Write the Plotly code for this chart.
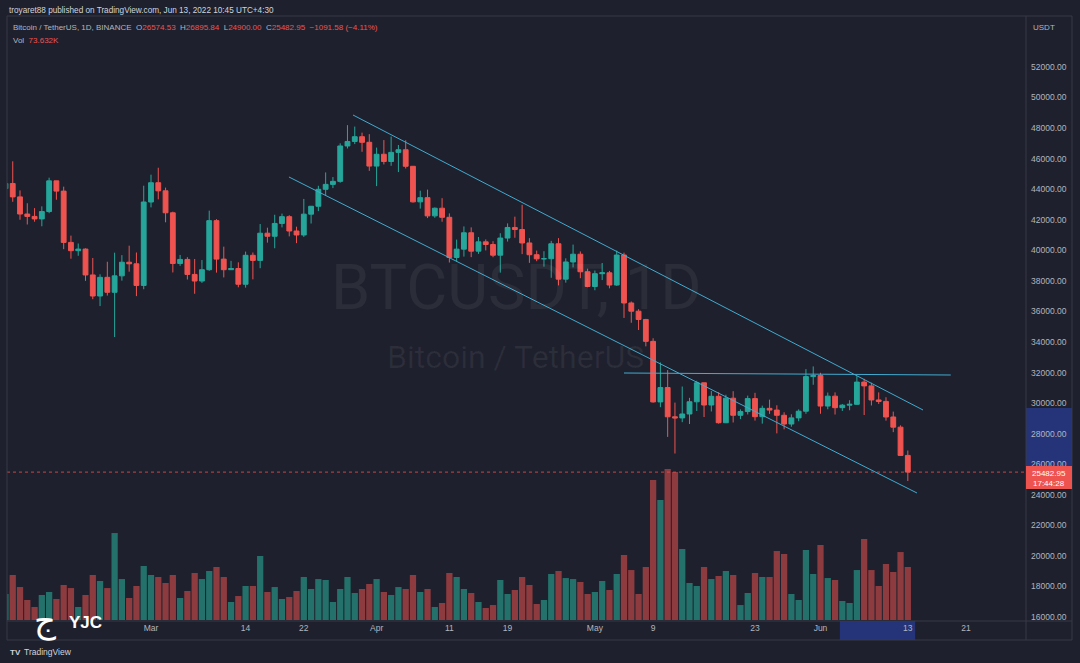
import plotly.graph_objects as go
import pandas as pd

# ---------------- data (BTC/USDT daily, Binance) ----------------
dates = pd.date_range("2022-02-09", "2022-06-13", freq="D")

opens = [
    44040, 44373, 43495, 42373, 42217, 42053, 42535, 44544, 43873, 40515,
    39974, 40079, 38386, 37008, 38230, 37250, 38328, 39219, 39116, 37699,
    # Mar
    43160, 44421, 43892, 42454, 39137, 39400, 38420, 37988, 38730, 41941,
    39422, 38730, 38808, 37777, 39672, 39338, 41118, 40917, 41757, 42201,
    41262, 41002, 42364, 42882, 43991, 44313, 44511, 46827, 47122, 47434, 47067,
    # Apr
    45510, 46283, 45811, 46407, 46580, 45497, 43170, 43445, 42252, 42753,
    42158, 39530, 40074, 41147, 39942, 40552, 40378, 39678, 40801, 41493,
    41358, 40480, 39709, 39441, 39450, 40426, 38112, 39235, 39742, 38596,
    # May
    37630, 38468, 38525, 37728, 39690, 36552, 36013, 35472, 34039, 30076,
    31017, 29103, 29029, 29287, 30086, 31328, 29874, 30444, 28715, 30319,
    29201, 29445, 30293, 29109, 29655, 29542, 29201, 28629, 29031, 29468, 31734,
    # Jun
    31801, 29805, 30452, 29700, 29864, 29919, 31373, 31125, 30204, 30109,
    29091, 28424, 26574.53,
]
highs = [
    44799, 45821, 43920, 43079, 42760, 42876, 44751, 44549, 44164, 40959,
    40444, 40126, 39494, 38429, 39249, 39843, 39683, 40300, 39855, 44225,
    44949, 45400, 44101, 42527, 39694, 39547, 39430, 39362, 42594, 42039,
    40236, 39308, 39209, 39914, 39854, 41718, 41478, 42325, 42400, 42296,
    41544, 43361, 42893, 44220, 45094, 44792, 46999, 48189, 48096, 47700, 47600,
    46720, 47213, 47444, 46890, 47200, 45507, 43900, 43970, 42800, 43410,
    42414, 40699, 41561, 41500, 40870, 40709, 40595, 41116, 41760, 42199,
    42976, 40795, 39980, 39940, 40616, 40797, 39474, 40372, 39925, 38795,
    38675, 39167, 38650, 39980, 39845, 36650, 36146, 35510, 34243, 32658,
    32162, 30032, 31083, 30343, 31460, 31328, 30788, 30709, 30545, 30777,
    29588, 30487, 30670, 29833, 30223, 29856, 29397, 29266, 29587, 32222, 32399,
    31982, 30689, 30699, 29942, 30189, 31765, 31589, 31330, 30700, 30382,
    29440, 28544, 26895.84,
]
lows = [
    43117, 43174, 42000, 41688, 41870, 41571, 42427, 43307, 40073, 39450,
    39639, 38000, 36800, 36350, 37036, 34322, 38014, 38600, 37000, 37450,
    42809, 43334, 41832, 38550, 38980, 38088, 37155, 37867, 38656, 38539,
    38224, 38708, 37578, 37555, 38099, 38828, 40500, 40135, 41499, 40911,
    40467, 40875, 41751, 42560, 43579, 44071, 44421, 46663, 46950, 46445, 45200,
    44200, 45620, 45530, 45118, 45353, 43121, 42727, 42107, 42125, 41868,
    39200, 39254, 39588, 39551, 39766, 39991, 39546, 38536, 40571, 40820,
    39751, 39177, 39285, 38929, 38200, 37702, 37881, 38881, 38175, 37578,
    37386, 38052, 37510, 37670, 35571, 35258, 34785, 33713, 30033, 29730,
    27785, 26700, 28751, 28630, 29480, 29087, 29450, 28654, 28693, 28730,
    28947, 29255, 28852, 28654, 29294, 28019, 28282, 28450, 28811, 29299, 31200,
    29301, 29594, 29250, 29485, 29531, 29890, 29218, 29844, 29944, 28850,
    28100, 26560, 24900.00,
]
closes = [
    44372, 43495, 42373, 42217, 42053, 42535, 44544, 43873, 40515, 39974,
    40079, 38386, 37008, 38230, 37250, 38327, 39219, 39116, 37699, 43160,
    44421, 43892, 42454, 39137, 39400, 38420, 37988, 38730, 41941, 39422,
    38730, 38808, 37777, 39672, 39338, 41118, 40917, 41757, 42201, 41262,
    41002, 42364, 42882, 43991, 44313, 44511, 46827, 47122, 47434, 47067, 45510,
    46283, 45811, 46407, 46580, 45497, 43170, 43445, 42252, 42753, 42158,
    39530, 40074, 41147, 39942, 40552, 40378, 39678, 40801, 41493, 41358,
    40480, 39709, 39441, 39450, 40426, 38112, 39235, 39742, 38596, 37630,
    38468, 38525, 37728, 39690, 36552, 36013, 35472, 34039, 30076, 31017,
    29103, 29029, 29287, 30086, 31328, 29874, 30444, 28715, 30319, 29201,
    29445, 30293, 29109, 29655, 29542, 29201, 28629, 29031, 29468, 31734, 31801,
    29805, 30452, 29700, 29864, 29919, 31373, 31125, 30204, 30109, 29091,
    28424, 26574, 25482.95,
]
volumes_k = [
    36.1, 62.5, 45.8, 27.8, 18.1, 34.7, 38.9, 29.2, 48.6, 44.4,
    18.1, 34.7, 62.5, 54.2, 44.4, 120.8, 56.9, 30.6, 47.2, 75.0,
    62.5, 59.7, 51.4, 62.5, 30.6, 40.3, 65.3, 56.9, 68.1, 73.6,
    59.7, 25.0, 33.3, 47.2, 47.2, 88.9, 38.9, 45.8, 29.2, 31.9,
    40.3, 59.7, 43.1, 56.9, 55.6, 25.0, 43.1, 59.7, 37.5, 43.1, 50.0,
    56.9, 38.9, 34.7, 45.8, 43.1, 62.5, 38.9, 43.1, 18.1, 23.6,
    65.3, 59.7, 43.1, 37.5, 25.0, 16.7, 20.8, 55.6, 36.1, 41.7,
    59.7, 48.6, 22.2, 27.8, 63.9, 68.1, 58.3, 56.9, 52.8, 36.1,
    38.9, 54.2, 41.7, 63.9, 90.3, 69.4, 36.1, 73.6, 194.5, 166.7,
    209.7, 205.6, 98.6, 51.4, 47.2, 73.6, 56.9, 61.1, 68.1, 62.5,
    20.8, 37.5, 65.3, 59.7, 59.7, 95.8, 91.7, 36.1, 27.8, 97.2, 63.9,
    104.2, 58.3, 55.6, 26.4, 23.6, 69.4, 112.5, 69.4, 47.2, 77.8,
    66.7, 94.4, 73.632,
]

# drawings (anchor points: date, price)
upper_channel_dates = ["2022-03-28 18:14", "2022-06-15 02:10"]
upper_channel_prices = [48853, 29547]
lower_channel_dates = ["2022-03-19 23:03", "2022-06-14 06:14"]
lower_channel_prices = [44796, 24115]
resistance_dates = ["2022-05-05 00:00", "2022-06-18 21:36"]
resistance_prices = [31969, 31838]

# axis ticks
x_tick_dates = ["2022-03-01", "2022-03-14", "2022-03-22", "2022-04-01", "2022-04-11",
                "2022-04-19", "2022-05-01", "2022-05-09", "2022-05-23", "2022-06-01",
                "2022-06-13", "2022-06-21"]
x_tick_labels = ["Mar", "14", "22", "Apr", "11", "19", "May", "9", "23", "Jun", "13", "21"]
price_ticks = list(range(16000, 52001, 2000))
price_tick_labels = [f"{v:.2f}" for v in price_ticks]

last_price = closes[-1]

# ---------------- style ----------------
BG = "#1e212d"
GREEN = "#26a69a"
RED = "#ef5350"
VOL_GREEN = "#23716a"
VOL_RED = "#8e3b3f"
LINE_BLUE = "#41abd0"
FRAME = "#363a46"
TXT = "#b2b5be"
HILITE = "#253478"
FONT = "Liberation Sans, Arial, sans-serif"

W, H = 1080, 663
L, R, T, B = 7, 54, 16, 42
PW, PH = W - L - R, H - T - B


def px(xp):
    return (xp - L) / PW


def py(yp):
    return (H - B - yp) / PH


vol_colors = [VOL_GREEN if c >= o else VOL_RED for o, c in zip(opens, closes)]

fig = go.Figure()
fig.add_trace(go.Bar(
    x=dates, y=volumes_k, marker=dict(color=vol_colors, line=dict(width=0)),
    width=0.86 * 86400000, yaxis="y", hoverinfo="skip", showlegend=False))
fig.add_trace(go.Candlestick(
    x=dates, open=opens, high=highs, low=lows, close=closes, yaxis="y2",
    increasing=dict(line=dict(color=GREEN, width=1), fillcolor=GREEN),
    decreasing=dict(line=dict(color=RED, width=1), fillcolor=RED),
    whiskerwidth=0, showlegend=False))
for dts, prs in [(upper_channel_dates, upper_channel_prices),
                 (lower_channel_dates, lower_channel_prices),
                 (resistance_dates, resistance_prices)]:
    fig.add_trace(go.Scatter(x=dts, y=prs, mode="lines", yaxis="y2",
                             line=dict(color=LINE_BLUE, width=1), showlegend=False,
                             hoverinfo="skip"))

shapes = [
    # axis highlights
    dict(type="rect", xref="paper", yref="y2", x0=1.0, x1=px(1072), y0=24450, y1=29680,
         fillcolor=HILITE, line=dict(width=0), layer="below"),
    dict(type="rect", xref="x", yref="paper", x0="2022-06-03 16:00", x1="2022-06-14 00:00",
         y0=py(640), y1=py(621), fillcolor=HILITE, line=dict(width=0), layer="below"),
    # last price dotted line
    dict(type="line", xref="paper", yref="y2", x0=0, x1=1, y0=last_price, y1=last_price,
         line=dict(color=RED, width=1, dash="dot"), opacity=0.8),
    # frame
    dict(type="rect", xref="paper", yref="paper", x0=0, x1=px(1072), y0=py(640), y1=1,
         line=dict(color=FRAME, width=1)),
    dict(type="line", xref="paper", yref="paper", x0=1, x1=1, y0=py(640), y1=1,
         line=dict(color=FRAME, width=1)),
    dict(type="line", xref="paper", yref="paper", x0=0, x1=px(1072), y0=0, y1=0,
         line=dict(color=FRAME, width=1)),
    # last price label box
    dict(type="rect", xref="paper", yref="paper", x0=1.0, x1=px(1072), y0=py(489), y1=py(466),
         fillcolor=RED, line=dict(width=0)),
]

hdr = ("Bitcoin / TetherUS, 1D, BINANCE&nbsp;&nbsp;"
       f"O<span style='color:{RED}'>26574.53</span>&nbsp;&nbsp;"
       f"H<span style='color:{RED}'>26895.84</span>&nbsp;&nbsp;"
       f"L<span style='color:{RED}'>24900.00</span>&nbsp;&nbsp;"
       f"C<span style='color:{RED}'>25482.95</span>&nbsp;&nbsp;"
       f"<span style='color:{RED}'>−1091.58 (−4.11%)</span>")

annotations = [
    dict(x=0, y=py(10), xref="paper", yref="paper", xanchor="left", yanchor="middle",
         text="troyaret88 published on TradingView.com, Jun 13, 2022 10:45 UTC+4:30",
         font=dict(size=8.2, color="#d1d4dc"), showarrow=False),
    dict(x=px(11), y=py(28), xref="paper", yref="paper", xanchor="left", yanchor="middle",
         text=hdr, font=dict(size=8, color=TXT), showarrow=False),
    dict(x=px(11), y=py(40), xref="paper", yref="paper", xanchor="left", yanchor="middle",
         text=f"Vol&nbsp;&nbsp;<span style='color:{RED}'>73.632K</span>",
         font=dict(size=8, color=TXT), showarrow=False),
    # watermark
    dict(x=px(516), y=py(287), xref="paper", yref="paper", xanchor="center", yanchor="middle",
         text="BTCUSDT, 1D", font=dict(size=63, color="rgba(255,255,255,0.06)", family="Roboto"),
         showarrow=False),
    dict(x=px(515), y=py(357), xref="paper", yref="paper", xanchor="center", yanchor="middle",
         text="Bitcoin / TetherUS", font=dict(size=32, color="rgba(255,255,255,0.06)", family="Roboto"),
         showarrow=False),
    # price axis
    dict(x=px(1031), y=py(27), xref="paper", yref="paper", xanchor="left", yanchor="middle",
         text="USDT", font=dict(size=8, color=TXT), showarrow=False),
    dict(x=px(1049), y=py(473), xref="paper", yref="paper", xanchor="center", yanchor="middle",
         text="25482.95", font=dict(size=8, color="#ffffff"), showarrow=False),
    dict(x=px(1049), y=py(483), xref="paper", yref="paper", xanchor="center", yanchor="middle",
         text="17:44:28", font=dict(size=8, color="#ffffff"), showarrow=False),
    # logos
    dict(x=px(45), y=py(620), xref="paper", yref="paper", xanchor="center", yanchor="middle",
         text="ج", font=dict(size=34, color="#ffffff", family="DejaVu Sans"), showarrow=False),
    dict(x=px(85), y=py(623), xref="paper", yref="paper", xanchor="center", yanchor="middle",
         text="<b>YJC</b>", font=dict(size=17, color="#ffffff"), showarrow=False),
    dict(x=px(8), y=py(652), xref="paper", yref="paper", xanchor="left", yanchor="middle",
         text="<b>TV</b>", font=dict(size=8, color="#d1d4dc"), showarrow=False),
    dict(x=px(22), y=py(652), xref="paper", yref="paper", xanchor="left", yanchor="middle",
         text="TradingView", font=dict(size=8.5, color="#d1d4dc"), showarrow=False),
]

fig.update_layout(
    width=W, height=H,
    margin=dict(l=L, r=R, t=T, b=B),
    paper_bgcolor=BG, plot_bgcolor=BG,
    font=dict(family=FONT, color=TXT, size=8.5),
    showlegend=False,
    boxgap=0.34, boxgroupgap=0,
    xaxis=dict(type="date", range=["2022-02-09 05:05", "2022-06-29 05:46"],
               tickvals=x_tick_dates, ticktext=x_tick_labels, showgrid=False,
               zeroline=False, showline=False, ticks="", rangeslider=dict(visible=False),
               tickfont=dict(size=8.5, color=TXT), fixedrange=True),
    yaxis=dict(range=[-1.39, 839], visible=False, showgrid=False, zeroline=False),
    yaxis2=dict(overlaying="y", side="right", range=[15738, 55333],
                tickvals=price_ticks, ticktext=price_tick_labels, showgrid=False,
                zeroline=False, showline=False, ticks="", ticklabelstandoff=4,
                tickfont=dict(size=8.5, color=TXT)),
    shapes=shapes,
    annotations=annotations,
)

fig.write_html("out.html")
